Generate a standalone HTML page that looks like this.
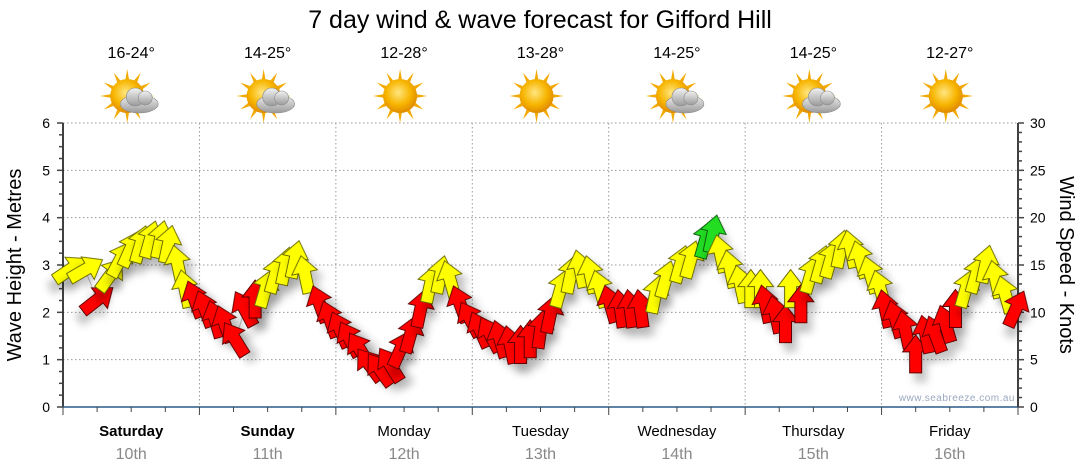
<!DOCTYPE html>
<html><head><meta charset="utf-8">
<style>
html,body{margin:0;padding:0;background:#fff;}
svg{display:block;font-family:"Liberation Sans","DejaVu Sans",sans-serif;}
</style></head>
<body>
<svg id="chart" width="1080" height="475" viewBox="0 0 1080 475" xmlns="http://www.w3.org/2000/svg">
<defs>
<filter id="sh" x="-50%" y="-50%" width="200%" height="200%">
<feDropShadow dx="5" dy="9" stdDeviation="4" flood-color="#000" flood-opacity="0.22"/>
</filter>
<radialGradient id="sun" cx="45%" cy="40%" r="60%">
<stop offset="0" stop-color="#ffe680"/><stop offset="0.6" stop-color="#f7b500"/><stop offset="1" stop-color="#e08a00"/>
</radialGradient>
<linearGradient id="cloud" x1="0" y1="0" x2="0" y2="1">
<stop offset="0" stop-color="#f2f2f2"/><stop offset="1" stop-color="#9a9a9a"/>
</linearGradient>
</defs>
<text x="540" y="28" text-anchor="middle" font-size="25" fill="#000">7 day wind &amp; wave forecast for Gifford Hill</text>
<g id="topg"></g>
<g id="grid"></g>
<g id="axes"></g>
<g id="series"></g>
<text x="1015" y="401" text-anchor="end" font-size="10" fill="#9aa8c0" letter-spacing="0.5">www.seabreeze.com.au</text>
</svg>
<script>
// ---- data ----
const dayNames = ["Saturday","Sunday","Monday","Tuesday","Wednesday","Thursday","Friday"];
const dayDates = ["10th","11th","12th","13th","14th","15th","16th"];
const temps = ["16-24°","14-25°","12-28°","13-28°","14-25°","14-25°","12-27°"];
const cloudy = [1,1,0,0,1,1,0];
const waveTicks = [0,1,2,3,4,5,6];
const windTicks = [0,5,10,15,20,25,30];
// wind arrows: hours since Saturday 00:00, speed (knots), arrow angle (deg, 0=up), colour code
const hours = [1.2,3.9,6,8.3,10,11.8,13.6,15.3,17.1,18.5,20.2,21.5,23.2,25,26.8,28.5,30.3,32,33.8,35.6,37.3,39.1,40.8,42.6,45.2,47,48.8,50.5,52.3,54,55.8,57.6,59.3,61.1,62.9,64.6,66.4,68.1,69.9,71.7,73.4,75.2,76.9,78.7,80.5,82.2,84,85.7,87.5,89.3,91,92.8,94.5,96.3,98.1,99.8,101.6,104.2,106,108.6,110.4,113,114.3,115.7,117.4,119.2,121,122.7,123.6,125.4,127.1,128,129.8,131.5,133.3,135,136.8,138.6,140.3,142.1,143.8,144.7,146.5,148.2,150,151.8,153.5,155.3,157,158.8,160.6,162.3,164.1,165.8,167.6];
const speeds = [14.5,14.5,11.3,13.9,15.5,16.6,17.1,17.6,17.6,17.1,15,12.4,11.3,10.3,9.2,8.7,7.1,10.3,11.3,12.4,13.9,14.8,15.5,13.9,10.8,9.2,8.1,7.1,6,4.4,3.9,4.4,6,7.6,10.3,12.9,13.9,13.4,10.8,9.2,8.1,7.6,7.1,6.5,6.5,7.1,8.1,9.7,12.4,13.9,14.5,13.9,12.4,10.8,10.3,10.3,10.3,11.8,13.4,15,15.5,17.6,18.2,16.1,14.5,12.9,12.4,12.4,10.8,9.7,8.7,12.4,10.8,13.9,15,15.5,16.6,16.6,15.5,13.9,12.4,10.3,9.2,8.1,5.5,7.6,7.6,8.7,10.3,12.4,13.9,15,13.4,11.8,10.3];
const angles = [70,75,65,45,35,30,20,20,15,15,-15,-15,-25,-25,-20,-25,-40,-35,0,20,20,15,15,-15,-25,-25,-30,-35,-40,-45,-45,-40,30,20,15,15,15,-20,-25,-35,-30,-35,-20,-15,0,0,10,15,20,15,-15,-15,-20,-20,-10,-10,-10,15,20,20,20,20,15,-15,-15,-15,0,0,-15,-15,0,0,0,20,20,20,15,-15,-20,-20,-20,-15,-20,-15,0,-15,-25,-20,0,20,20,15,-15,-20,30];
const colors = ["y","y","r","y","y","y","y","y","y","y","y","y","r","r","r","r","r","r","r","y","y","y","y","y","r","r","r","r","r","r","r","r","r","r","r","y","y","y","r","r","r","r","r","r","r","r","r","r","y","y","y","y","y","r","r","r","r","y","y","y","y","g","g","y","y","y","y","y","r","r","r","y","r","y","y","y","y","y","y","y","y","r","r","r","r","r","r","r","r","y","y","y","y","y","r"];

// ---- layout ----
const NS="http://www.w3.org/2000/svg";
const X0=63,X1=1018,Y0=407,Y1=123,DW=(X1-X0)/7;
const xH=h=>X0+h*DW/24;
const yM=m=>Y0-m*(Y0-Y1)/6;
const yK=k=>Y0-k*(Y0-Y1)/30;
function el(tag,attrs,parent,txt){const e=document.createElementNS(NS,tag);for(const k in attrs)e.setAttribute(k,attrs[k]);if(txt!==undefined)e.textContent=txt;parent.appendChild(e);return e;}
const topG=document.getElementById('topg'),gridG=document.getElementById('grid'),axesG=document.getElementById('axes'),seriesG=document.getElementById('series');

// top temps + icons
dayNames.forEach((d,i)=>{
  const cx=X0+DW*(i+0.5);
  const t=el('text',{x:cx,y:58,'text-anchor':'middle','font-size':'16',fill:'#000'},topG,temps[i]);
  
  
  const g=el('g',{transform:`translate(${cx-4},96)`},topG);
  
  
  for(let r=0;r<12;r++){const a=r*30*Math.PI/180;
    el('polygon',{points:`${Math.cos(a-0.12)*16},${Math.sin(a-0.12)*16} ${Math.cos(a)*27},${Math.sin(a)*27} ${Math.cos(a+0.12)*16},${Math.sin(a+0.12)*16}`,fill:'#f2a900'},g);}
  el('circle',{cx:0,cy:0,r:17,fill:'url(#sun)'},g);
  if(cloudy[i]){
    const c=el('g',{fill:'url(#cloud)',stroke:'#8a8a8a','stroke-width':'0.6'},g);
    el('ellipse',{cx:12,cy:8,rx:19,ry:9},c);
    el('circle',{cx:8,cy:1,r:9},c);
    el('circle',{cx:18,cy:2,r:7},c);
  }
});

// grid
dayNames.forEach((d,i)=>{ if(i>0){const l=el('line',{x1:X0+DW*i,x2:X0+DW*i,y1:Y1,y2:Y0,stroke:'#999','stroke-dasharray':'1.5,2.5'},gridG);
  }});
waveTicks.forEach(m=>{ if(m>0){const l=el('line',{x1:X0,x2:X1,y1:yM(m),y2:yM(m),stroke:'#999','stroke-dasharray':'1.5,2.5'},gridG);
  }});

// axes
el('line',{x1:X0,x2:X0,y1:Y1,y2:Y0,stroke:'#000','stroke-width':'1.5'},axesG);
el('line',{x1:X1,x2:X1,y1:Y1,y2:Y0,stroke:'#000','stroke-width':'1.5'},axesG);
const xl=el('line',{x1:X0,x2:X1,y1:Y0,y2:Y0,stroke:'#2a5a8a','stroke-width':'1.5'},axesG);

for(let q=0;q<=24;q++){const y=yM(q/4);el('line',{x1:X0-(q%4?4:6),x2:X0,y1:y,y2:y,stroke:'#444','stroke-width':'1.5'},axesG);}
for(let k=0;k<=30;k++){const y=yK(k);el('line',{x1:X1,x2:X1+(k%5?4:6),y1:y,y2:y,stroke:'#444','stroke-width':'1.5'},axesG);}
for(let h=0;h<=168;h+=6){const x=xH(h);el('line',{x1:x,x2:x,y1:Y0,y2:Y0+(h%24?5:8),stroke:'#444'},axesG);}
waveTicks.forEach(m=>{const t=el('text',{x:X0-13,y:yM(m)+5,'text-anchor':'end','font-size':'14',fill:'#000'},axesG,m);
  });
windTicks.forEach(k=>{const t=el('text',{x:X1+12,y:yK(k)+5,'font-size':'14',fill:'#000'},axesG,k);
  });
const lt=el('text',{transform:'translate(21,265) rotate(-90)','text-anchor':'middle','font-size':'20',fill:'#000'},axesG,'Wave Height - Metres');

const rt=el('text',{transform:'translate(1060,265) rotate(90)','text-anchor':'middle','font-size':'20',fill:'#000'},axesG,'Wind Speed - Knots');

dayNames.forEach((d,i)=>{const cx=X0+DW*(i+0.5);
  const t=el('text',{x:cx,y:436,'text-anchor':'middle','font-size':'15',fill:'#000','font-weight':i<2?'bold':'normal'},axesG,d);
  
  const t2=el('text',{x:cx,y:459,'text-anchor':'middle','font-size':'16',fill:'#888'},axesG,dayDates[i]);
  });

// series
const pts=hours.map((h,i)=>xH(h)+','+yK(speeds[i])).join(' ');
const pl=el('polyline',{points:pts,fill:'none',stroke:'#bbb','stroke-width':'1'},seriesG);

const fills={y:'#ffff00',r:'#ff0000',g:'#22dd22'};
const strokes={y:'#6b6b00',r:'#600000',g:'#0a5a0a'};
hours.forEach((h,i)=>{
  const c=colors[i]||'y';
  const p=el('polygon',{points:'0,-20 13,-3 6,-3 6,18 -6,18 -6,-3 -13,-3',
    transform:`translate(${xH(h)},${yK(speeds[i])}) rotate(${(angles[i]||0)*0.8})`,
    fill:fills[c],stroke:strokes[c],'stroke-width':'1',filter:'url(#sh)'},seriesG);
  
  
});
</script>
</body></html>
